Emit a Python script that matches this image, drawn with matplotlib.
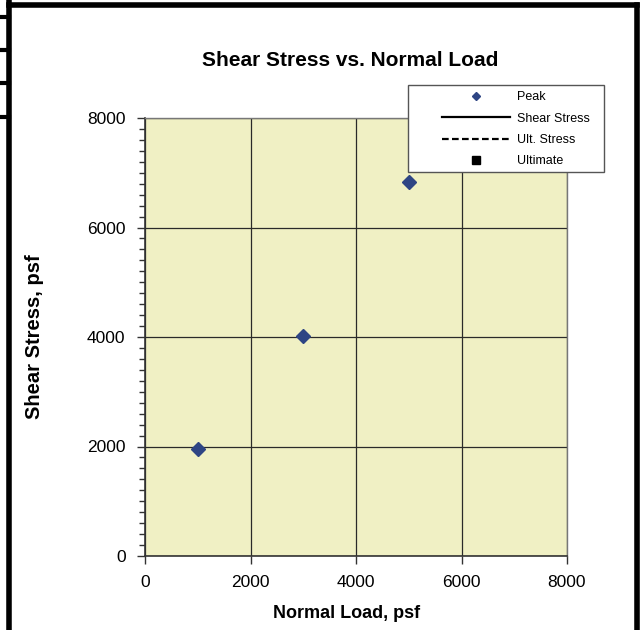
import matplotlib
matplotlib.use("Agg")
import matplotlib.pyplot as plt
from matplotlib.lines import Line2D
from matplotlib.patches import Rectangle
from matplotlib.ticker import MultipleLocator

plt.rcParams['font.family'] = ['Liberation Sans', 'DejaVu Sans']

# Data
normal_load = [1000, 3000, 5000]
peak_stress = [1960, 4020, 6830]
x_ticks = [0, 2000, 4000, 6000, 8000]
y_ticks = [0, 2000, 4000, 6000, 8000]
legend_labels = ["Peak", "Shear Stress", "Ult. Stress", "Ultimate"]

W, H = 642, 630
fig = plt.figure(figsize=(W / 100, H / 100), dpi=100)
fig.patch.set_facecolor('white')

def fx(px):
    return px / W

def fy(py):
    return 1 - py / H

ax = fig.add_axes([fx(145), fy(556), fx(567) - fx(145), fy(118) - fy(556)])
ax.set_facecolor('#F0F0C4')

ax.plot(normal_load, peak_stress, linestyle='none', marker='D', ms=7,
        color='#2E4584', markeredgecolor='#2E4584', zorder=5)

ax.set_xlim(0, 8000)
ax.set_ylim(0, 8000)
ax.set_xticks(x_ticks)
ax.set_yticks(y_ticks)
ax.set_xticklabels([str(v) for v in x_ticks])
ax.set_yticklabels([str(v) for v in y_ticks])
ax.yaxis.set_minor_locator(MultipleLocator(200))
ax.tick_params(axis='both', which='major', labelsize=12.5, direction='out',
               length=6, width=1, color='#333333', pad=8)
ax.tick_params(axis='y', which='minor', direction='out', length=4, width=1,
               color='#333333')
ax.grid(True, which='major', color='#2a2a2a', linewidth=0.9)
ax.set_axisbelow(True)
for s in ['left', 'bottom']:
    ax.spines[s].set_color('#333333')
    ax.spines[s].set_linewidth(1.2)
for s in ['top', 'right']:
    ax.spines[s].set_color('#777777')
    ax.spines[s].set_linewidth(1.0)

fig.text(fx(350), fy(61), "Shear Stress vs. Normal Load", ha='center',
         va='center', fontsize=15, fontweight='bold')
fig.text(fx(347), fy(613), "Normal Load, psf", ha='center', va='center',
         fontsize=13, fontweight='bold')
fig.text(fx(35), fy(337), "Shear Stress, psf", ha='center', va='center',
         fontsize=14.5, fontweight='bold', rotation=90)

# legend frame
fig.add_artist(Rectangle((fx(408), fy(172)), fx(604) - fx(408),
                         fy(85) - fy(172), transform=fig.transFigure,
                         facecolor='white', edgecolor='#555555', lw=1.0,
                         zorder=9))

handles = [
    Line2D([], [], linestyle='none', marker='D', ms=4.5, color='#2E4584'),
    Line2D([], [], linestyle='-', color='black', lw=1.6),
    Line2D([], [], linestyle='--', color='black', lw=1.6, dashes=(3, 1.5)),
    Line2D([], [], linestyle='none', marker='s', ms=6, color='black'),
]
leg = fig.legend(handles, legend_labels, loc='upper left',
                 bbox_to_anchor=(fx(442), fy(91)), fontsize=9,
                 frameon=False, handlelength=5.44,
                 handletextpad=0.56, labelspacing=0.76, borderpad=0,
                 borderaxespad=0)
leg.set_zorder(10)

# scanned page frame
lines = [
    ([fx(9), fx(9)], [fy(0), fy(630)], 4),
    ([fx(9), fx(637)], [fy(5), fy(5)], 4),
    ([fx(637), fx(637)], [fy(5), fy(630)], 4),
]
for xs, ys, lw in lines:
    fig.add_artist(Line2D(xs, ys, color='black', lw=lw, transform=fig.transFigure))
for py in [17, 50, 83, 117]:
    fig.add_artist(Line2D([fx(0), fx(9)], [fy(py), fy(py)], color='black',
                          lw=3, transform=fig.transFigure))

fig.savefig('out.png', dpi=100)
